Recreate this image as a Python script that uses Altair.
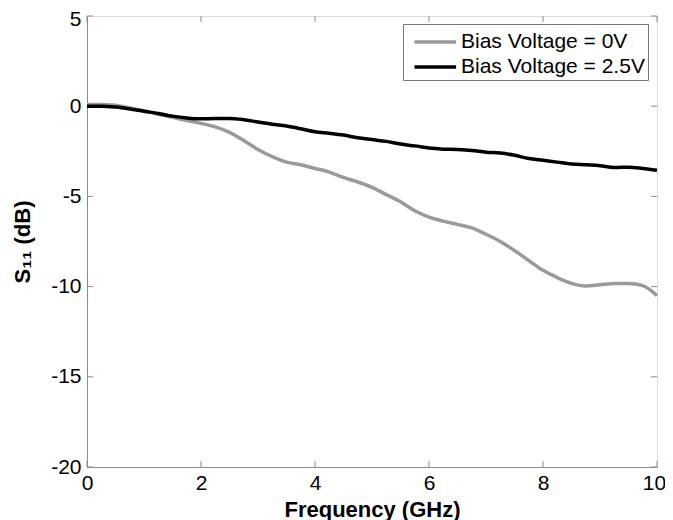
import altair as alt
import pandas as pd

freq = [0, 0.25, 0.5, 0.75, 1.0, 1.25, 1.5, 1.75, 2.0, 2.25, 2.5, 2.75, 3.0, 3.25, 3.5,
        3.75, 4.0, 4.25, 4.5, 4.75, 5.0, 5.25, 5.5, 5.75, 6.0, 6.25, 6.5, 6.75, 7.0,
        7.25, 7.5, 7.75, 8.0, 8.25, 8.5, 8.75, 9.0, 9.25, 9.5, 9.75, 10.0]
s11_0v = [0.1, 0.1, 0.05, -0.1, -0.25, -0.45, -0.62, -0.8, -0.95, -1.15, -1.45, -1.9,
          -2.4, -2.8, -3.1, -3.25, -3.45, -3.65, -3.95, -4.2, -4.5, -4.9, -5.3, -5.8,
          -6.15, -6.37, -6.55, -6.75, -7.1, -7.5, -8.0, -8.55, -9.1, -9.5, -9.82, -9.97,
          -9.9, -9.83, -9.83, -9.95, -10.5]
s11_25v = [0, 0, -0.05, -0.15, -0.28, -0.4, -0.55, -0.65, -0.7, -0.68, -0.68, -0.75,
           -0.88, -1.0, -1.1, -1.25, -1.42, -1.5, -1.6, -1.75, -1.85, -1.95, -2.1, -2.2,
           -2.32, -2.38, -2.4, -2.45, -2.55, -2.6, -2.72, -2.9, -3.0, -3.1, -3.2, -3.25,
           -3.3, -3.4, -3.38, -3.45, -3.55]
series = ["Bias Voltage = 0V", "Bias Voltage = 2.5V"]
colors = ["#9a9a9a", "#000000"]
x_ticks = [0, 2, 4, 6, 8, 10]
y_ticks = [-20, -15, -10, -5, 0, 5]

rows = []
for f, a, b in zip(freq, s11_0v, s11_25v):
    rows.append({"f": f, "v": a, "s": series[0]})
    rows.append({"f": f, "v": b, "s": series[1]})
df = pd.DataFrame(rows)

W, H = 570, 451
FONT = "Liberation Sans"
AX = "#8c8c8c"

xscale = alt.Scale(domain=[0, 10], nice=False)
yscale = alt.Scale(domain=[-20, 5], nice=False)

lines = alt.Chart(df).mark_line(strokeWidth=3.5, interpolate="monotone").encode(
    x=alt.X("f:Q", scale=xscale, axis=alt.Axis(
        title="Frequency (GHz)", values=x_ticks, tickSize=0, labelPadding=5,
        labelExpr="'' + datum.value", labelFlush=False,
        labelOffset={"condition": {"test": "datum.value == 10", "value": -3}, "value": 0},
        titleFontWeight="bold", titleFontSize=22, labelFontSize=21,
        titleBaseline="alphabetic", titleY=49,
        domainColor=AX, labelColor="#000", titleColor="#000", grid=False)),
    y=alt.Y("v:Q", scale=yscale, axis=alt.Axis(
        title="S₁₁ (dB)", values=y_ticks, tickSize=0, labelPadding=6,
        labelExpr="'' + datum.value", labelFlush=False,
        labelOffset={"condition": {"test": "datum.value == 5", "value": 3},
                     "value": 0},
        titleFontWeight="bold", titleFontSize=22, labelFontSize=21,
        titleBaseline="alphabetic", titleX=-58,
        domainColor=AX, labelColor="#000", titleColor="#000", grid=False)),
    color=alt.Color("s:N", scale=alt.Scale(domain=series, range=colors), legend=alt.Legend(
        title=None, orient="none", legendX=316, legendY=8, symbolType="M-0.5,0H2.7",
        symbolSize=676, symbolStrokeWidth=3.5, labelFontSize=21, labelFont=FONT,
        labelColor="#000", strokeColor="#777", fillColor="white", padding=3,
        rowPadding=0, labelOffset=25, labelLimit=400)),
)

xt = pd.DataFrame({"t": x_ticks})
yt = pd.DataFrame({"t": y_ticks})
tb = alt.Chart(xt).mark_rule(color=AX, strokeWidth=1).encode(
    x=alt.X("t:Q", scale=xscale), y=alt.value(H), y2=alt.value(H - 6))
tt = alt.Chart(xt).mark_rule(color=AX, strokeWidth=1).encode(
    x=alt.X("t:Q", scale=xscale), y=alt.value(0), y2=alt.value(6))
tl = alt.Chart(yt).mark_rule(color=AX, strokeWidth=1).encode(
    y=alt.Y("t:Q", scale=yscale), x=alt.value(0), x2=alt.value(6))
tr = alt.Chart(yt).mark_rule(color=AX, strokeWidth=1).encode(
    y=alt.Y("t:Q", scale=yscale), x=alt.value(W), x2=alt.value(W - 6))

chart = alt.layer(tb, tt, tl, tr, lines).properties(
    width=W, height=H,
    autosize=alt.AutoSizeParams(type="none"),
    padding={"left": 79, "top": 8, "right": 8, "bottom": 55},
).configure_view(stroke=AX, strokeWidth=1.2).configure_axis(
    labelFont=FONT, titleFont=FONT
).configure(background="white")

chart.save("out.html", embed_options={"renderer": "svg", "actions": False})
